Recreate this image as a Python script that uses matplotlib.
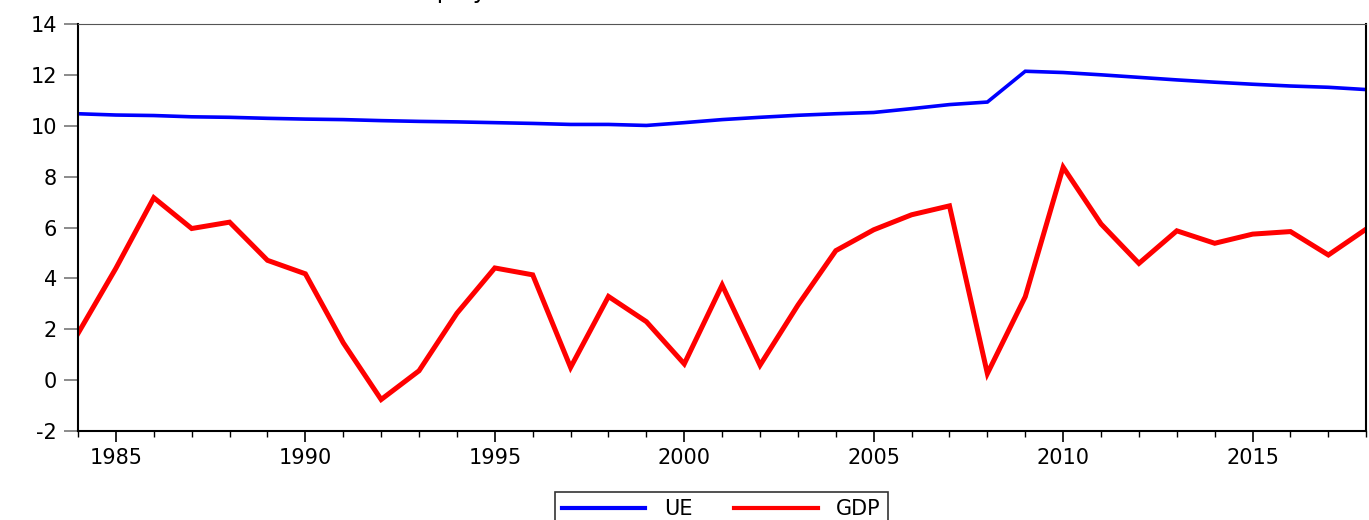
import matplotlib
matplotlib.use("Agg")
from matplotlib import pyplot as plt
from matplotlib.ticker import MultipleLocator

years = list(range(1984, 2019))
ue = [10.47, 10.42, 10.40, 10.35, 10.33, 10.29, 10.26, 10.24, 10.20, 10.17,
      10.15, 10.12, 10.09, 10.05, 10.05, 10.01, 10.12, 10.24, 10.33, 10.41,
      10.47, 10.52, 10.67, 10.83, 10.93, 12.14, 12.09, 12.00, 11.90, 11.80,
      11.71, 11.63, 11.56, 11.51, 11.42]
gdp = [1.84, 4.40, 7.17, 5.96, 6.21, 4.71, 4.18, 1.47, -0.76, 0.37,
       2.63, 4.41, 4.14, 0.50, 3.29, 2.30, 0.64, 3.74, 0.59, 2.95,
       5.09, 5.91, 6.50, 6.85, 0.26, 3.28, 8.37, 6.14, 4.59, 5.87,
       5.38, 5.74, 5.84, 4.92, 5.94]

plt.rcParams['font.family'] = ['DejaVu Sans']
plt.rcParams['axes.unicode_minus'] = False

fig = plt.figure(figsize=(13.69, 5.2), dpi=100)
ax = fig.add_axes([0.057, 0.171, 0.941, 0.783])

ax.plot(years, ue, color='#0000ff', lw=2.6, label='UE', solid_joinstyle='miter')
ax.plot(years, gdp, color='#ff0000', lw=3.6, label='GDP', solid_joinstyle='miter')

ax.set_xlim(1984, 2018)
ax.set_ylim(-2, 14)
ax.yaxis.set_major_locator(MultipleLocator(2))
ax.xaxis.set_major_locator(MultipleLocator(5))
ax.xaxis.set_minor_locator(MultipleLocator(1))

ax.tick_params(axis='y', direction='out', length=10, width=1.2, color='#777777',
               labelsize=15, pad=5)
ax.tick_params(axis='x', which='major', direction='out', length=8, width=1.2,
               labelsize=15, pad=4)
ax.tick_params(axis='x', which='minor', direction='out', length=4, width=1.0)
ax.spines['top'].set_color('#555555')
for s in ['left', 'bottom', 'right']:
    ax.spines[s].set_color('black')
    ax.spines[s].set_linewidth(1.5)

# title: only the descenders peek in at the top edge, as in the source image
fig.text(0.268, 1.0 + 2.0 / 520, 'Unemployment and GDP Growth', fontsize=17,
         ha='left', va='baseline')

leg = fig.legend(loc='upper center', bbox_to_anchor=(0.527, 0.0545), ncol=2,
                 fontsize=15, frameon=True, fancybox=False, edgecolor='black',
                 handlelength=4.0, columnspacing=2.0, borderpad=0.35,
                 handletextpad=0.9, borderaxespad=0.0)
leg.get_frame().set_linewidth(1.2)
for line in leg.get_lines():
    line.set_linewidth(3)

fig.savefig('out.png', dpi=100)
